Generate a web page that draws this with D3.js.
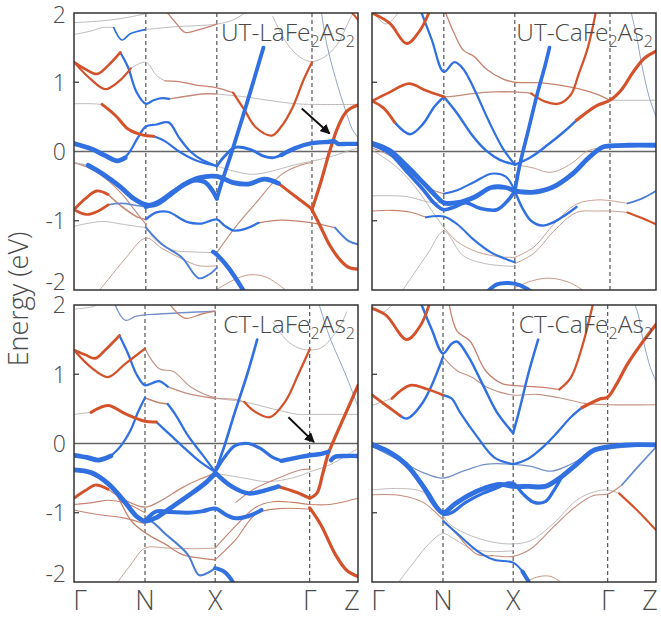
<!DOCTYPE html>
<html>
<head>
<meta charset="utf-8">
<script src="https://cdn.jsdelivr.net/npm/d3@7"></script>
<style>
body { margin: 0; background: #fff; }
svg text { font-family: "Open Sans", "Noto Sans", sans-serif; font-weight: 300; fill: #4a4a4a; }
</style>
</head>
<body>
<div id="graph_draw"></div>
<script>
// k path labels and tick positions (fraction of the path length)
var kLabels = ["Γ", "N", "X", "Γ", "Z"];
var kTicksUT = [0, 0.253, 0.503, 0.838, 1];
var kTicksCT = [0, 0.25, 0.497, 0.83, 1];
var eTicks = [-2, -1, 0, 1, 2];
var eLabels = ["-2", "-1", "0", "1", "2"];

// panel names: [text, sub, text, sub]
var titleUTLa = ["UT-LaFe", "2", "As", "2"];
var titleUTCa = ["UT-CaFe", "2", "As", "2"];
var titleCTLa = ["CT-LaFe", "2", "As", "2"];
var titleCTCa = ["CT-CaFe", "2", "As", "2"];

// arrows [from, to] in (k, E)
var arrowUTLa = [[0.802, 0.62], [0.9, 0.26]];
var arrowCTLa = [[0.755, 0.38], [0.845, 0.02]];

// bands: [orbital character (-1 La/Ca d, 0 none, 1 Fe), weight, [[k, E], ...]]
var bandsUTLa = [
 [0,0,[[0,1.86],[0.13,1.90],[0.25,1.99],[0.29,2.05]]],
 [0,0,[[0,1.69],[0.06,1.74],[0.10,1.79],[0.14,1.79]]],
 [1,0.2,[[0.14,1.79],[0.169,1.61],[0.198,1.70],[0.251,1.76]]],
 [0,0,[[0.251,1.76],[0.35,1.80],[0.503,1.84],[0.56,1.90],[0.62,2.05]]],
 [-0.5,0.1,[[0.32,2.05],[0.36,1.85],[0.392,1.72],[0.44,1.76],[0.503,1.84]]],
 [0,0,[[0.70,1.95],[0.75,1.56],[0.80,1.35],[0.838,1.30],[0.88,1.36],[0.926,1.54],[0.97,1.9],[0.99,2.05]]],
 [0.4,0,[[0.87,2.05],[0.89,1.55],[0.92,1.07],[0.954,0.62],[0.98,0.32],[1,0.2]]],
 [-1,0.3,[[0.97,2.05],[1,1.9]]],
 [-1,0.45,[[0,1.29],[0.04,1.19],[0.081,1.12],[0.12,1.24],[0.163,1.43]]],
 [1,0.35,[[0.163,1.43],[0.19,1.22],[0.22,0.86],[0.253,0.69],[0.28,0.74],[0.31,0.77],[0.335,0.76]]],
 [-0.4,0.15,[[0.335,0.76],[0.40,0.80],[0.45,0.83],[0.503,0.83]]],
 [0,0,[[0.503,0.83],[0.6,0.79],[0.7,0.73],[0.78,0.69],[0.838,0.68],[1,0.68]]],
 [-1,0.35,[[0,1.29],[0.06,1.04],[0.11,0.90],[0.16,1.02],[0.20,1.20]]],
 [0,0,[[0.20,1.20],[0.253,1.29],[0.29,1.1],[0.32,1.02]]],
 [-0.5,0.1,[[0.32,1.02],[0.37,1.01],[0.43,0.96],[0.503,0.92],[0.56,0.85]]],
 [-1,0.35,[[0.56,0.85],[0.60,0.6],[0.64,0.35],[0.696,0.23],[0.73,0.36],[0.77,0.64],[0.81,1.05],[0.838,1.29]]],
 [0,0,[[0,0.69],[0.06,0.69],[0.099,0.68]]],
 [-1,0.55,[[0.099,0.68],[0.146,0.52],[0.192,0.32],[0.24,0.24],[0.28,0.22]]],
 [1,0.3,[[0.28,0.22],[0.32,0.15],[0.37,0.0],[0.43,-0.13],[0.503,-0.21]]],
 [1,1,[[0,0.116],[0.064,0.034],[0.11,-0.06],[0.152,-0.135],[0.18,-0.09]]],
 [1,0.35,[[0.18,-0.09],[0.20,0.02],[0.225,0.2],[0.253,0.36],[0.29,0.39],[0.333,0.42],[0.37,0.2],[0.41,0.0],[0.45,-0.12],[0.503,-0.21]]],
 [1,0.5,[[0.503,-0.21],[0.53,-0.07],[0.567,0.06],[0.62,0.03],[0.67,-0.07],[0.70,-0.09],[0.73,-0.05]]],
 [1,0.9,[[0.73,-0.05],[0.78,0.05],[0.838,0.12],[0.90,0.14],[0.915,0.15],[0.93,0.11],[0.96,0.11],[1,0.11]]],
 [0,0,[[0.503,-0.21],[0.56,-0.28],[0.63,-0.33],[0.70,-0.28],[0.77,-0.2],[0.838,-0.14],[0.9,-0.08],[0.96,0.0],[1,0.05]]],
 [-0.4,0.05,[[0.503,-1.46],[0.567,-1.1],[0.637,-0.76],[0.731,-0.33],[0.802,-0.19],[0.838,-0.16]]],
 [0,0.1,[[0,-0.16],[0.05,-0.20]]],
 [1,1,[[0.05,-0.20],[0.10,-0.32],[0.16,-0.50],[0.21,-0.68],[0.253,-0.77],[0.29,-0.76],[0.34,-0.62],[0.39,-0.47],[0.44,-0.38],[0.503,-0.36],[0.56,-0.45],[0.614,-0.47],[0.67,-0.40],[0.72,-0.46]]],
 [-1,0.55,[[0.72,-0.46],[0.78,-0.65],[0.838,-0.83]]],
 [1,0.9,[[0.253,-0.80],[0.30,-0.72],[0.36,-0.55],[0.42,-0.42],[0.46,-0.44],[0.49,-0.58],[0.503,-0.68]]],
 [1,0.75,[[0.503,-0.68],[0.52,-0.45],[0.56,0.05],[0.62,0.85],[0.667,1.5]]],
 [-0.4,0.05,[[0,-0.16],[0.06,-0.25],[0.12,-0.42],[0.17,-0.62],[0.22,-0.88],[0.253,-1.05]]],
 [0,0,[[0.253,-1.05],[0.28,-1.25],[0.345,-1.42],[0.42,-1.45],[0.503,-1.46]]],
 [-1,0.5,[[0,-0.84],[0.04,-0.68],[0.08,-0.57],[0.12,-0.62]]],
 [-0.5,0.15,[[0.12,-0.62],[0.17,-0.80],[0.22,-0.94],[0.253,-0.98]]],
 [-1,0.45,[[0,-0.84],[0.045,-0.91],[0.08,-0.87],[0.12,-0.77]]],
 [0.6,0.2,[[0.12,-0.77],[0.17,-0.75],[0.22,-0.78],[0.253,-0.80]]],
 [1,0.35,[[0.253,-0.98],[0.29,-0.88],[0.33,-0.87],[0.40,-1.02],[0.45,-1.04],[0.503,-0.98],[0.53,-1.07],[0.56,-1.14],[0.60,-1.12],[0.65,-1.03]]],
 [-0.5,0.1,[[0.65,-1.03],[0.73,-0.99],[0.838,-1.03],[0.919,-1.10]]],
 [0.8,0.3,[[0.919,-1.10],[0.966,-1.29],[1,-1.34]]],
 [0,0,[[0,-1.08],[0.1,-1.01],[0.17,-1.05],[0.253,-1.10]]],
 [0.8,0.25,[[0.253,-1.10],[0.31,-1.34],[0.38,-1.53],[0.439,-1.83],[0.474,-1.78],[0.503,-1.68]]],
 [-0.3,0,[[0.08,-2.05],[0.12,-1.85],[0.18,-1.55],[0.253,-1.25],[0.31,-1.4],[0.38,-1.55],[0.44,-1.65],[0.503,-1.65]]],
 [1,0.9,[[0.49,-1.45],[0.503,-1.49],[0.544,-1.68],[0.603,-2.05]]],
 [-0.4,0,[[0.48,-2.05],[0.56,-1.86],[0.62,-1.78],[0.68,-1.82],[0.76,-2.05]]],
 [-1,0.6,[[0.838,-0.84],[0.87,-1.1],[0.9,-1.35],[0.94,-1.58],[0.97,-1.68],[1,-1.70]]],
 [-1,0.6,[[0.838,-0.84],[0.87,-0.43],[0.90,0.0],[0.93,0.36],[0.96,0.58],[1,0.67]]]
];

var bandsUTCa = [
 [-1,0.5,[[0,2.0],[0.063,1.85],[0.122,1.56],[0.169,1.75],[0.205,2.05]]],
 [0,0,[[0,2.03],[0.05,1.84],[0.1,2.05]]],
 [1,0.35,[[0.17,2.05],[0.21,1.62],[0.253,1.15],[0.29,1.29],[0.32,1.2],[0.36,0.9],[0.41,0.45],[0.46,0.05],[0.503,-0.19]]],
 [-1,0.45,[[0,0.73],[0.06,0.85],[0.13,0.98],[0.19,0.88],[0.253,0.79]]],
 [-0.4,0.1,[[0.253,0.79],[0.29,0.80],[0.36,0.84],[0.43,0.86],[0.503,0.86],[0.56,0.84]]],
 [-1,0.35,[[0.56,0.84],[0.61,0.72],[0.657,0.69],[0.70,0.82],[0.728,1.12],[0.76,1.5],[0.79,2.05]]],
 [-1,0.5,[[0,0.73],[0.04,0.63],[0.08,0.42]]],
 [1,0.4,[[0.08,0.42],[0.134,0.25],[0.18,0.40],[0.22,0.65],[0.253,0.79]]],
 [1,0.4,[[0.253,0.79],[0.30,0.55],[0.35,0.25],[0.40,0.02],[0.45,-0.12],[0.503,-0.19]]],
 [-0.5,0.1,[[0.255,2.05],[0.29,1.7],[0.322,1.46],[0.36,1.37],[0.40,1.2],[0.46,1.05],[0.503,1.0],[0.6,0.99],[0.7,0.93],[0.79,0.83],[0.838,0.74]]],
 [0,0,[[0.838,0.74],[1,0.74]]],
 [1,0.7,[[0.503,-0.57],[0.52,-0.2],[0.55,0.3],[0.58,0.8],[0.61,1.25],[0.625,1.5]]],
 [1,0.4,[[0.503,-0.19],[0.56,-0.08],[0.62,0.1],[0.68,0.3],[0.72,0.45]]],
 [-1,0.6,[[0.72,0.45],[0.79,0.66],[0.838,0.74],[0.88,0.9],[0.92,1.15],[0.96,1.35],[1,1.45]]],
 [0.4,0,[[0.91,2.05],[0.93,1.7],[0.95,1.25],[0.975,0.8],[1,0.5]]],
 [1,1,[[0,0.12],[0.06,0.02],[0.12,-0.2],[0.18,-0.45],[0.22,-0.62],[0.253,-0.74],[0.30,-0.74],[0.36,-0.66],[0.42,-0.52],[0.47,-0.52],[0.503,-0.57]]],
 [1,0.7,[[0,0.10],[0.06,-0.02],[0.12,-0.28],[0.18,-0.55],[0.22,-0.75],[0.253,-0.84],[0.29,-0.8],[0.33,-0.74],[0.38,-0.82],[0.44,-0.84],[0.48,-0.7],[0.503,-0.57]]],
 [-0.4,0.05,[[0,0.05],[0.08,-0.1],[0.16,-0.4],[0.21,-0.55],[0.253,-0.61]]],
 [1,0.3,[[0.253,-0.61],[0.30,-0.56],[0.36,-0.44],[0.42,-0.32],[0.47,-0.36],[0.503,-0.57]]],
 [1,1,[[0.503,-0.57],[0.563,-0.59],[0.634,-0.52],[0.704,-0.33],[0.763,-0.09],[0.81,0.06],[0.838,0.08],[0.9,0.09],[1,0.09]]],
 [-0.3,0,[[0.503,-0.19],[0.56,-0.23],[0.63,-0.30],[0.70,-0.18],[0.76,0.01],[0.838,0.06],[1,0.07]]],
 [1,0.4,[[0.503,-0.57],[0.53,-0.82],[0.56,-1.0],[0.60,-1.07],[0.64,-1.02],[0.68,-0.92],[0.72,-0.8]]],
 [-0.3,0,[[0.503,-1.53],[0.57,-1.38],[0.64,-1.05],[0.72,-0.76],[0.79,-0.70],[0.838,-0.71],[0.9,-0.75]]],
 [0.8,0.25,[[0.9,-0.75],[0.95,-0.68],[1,-0.57]]],
 [-0.3,0,[[0.503,-1.62],[0.57,-1.47],[0.64,-1.15],[0.72,-0.88],[0.79,-0.86],[0.838,-0.86],[0.9,-0.88]]],
 [-1,0.3,[[0.9,-0.88],[0.95,-0.96],[1,-1.05]]],
 [1,0.8,[[0.40,-2.05],[0.44,-1.92],[0.48,-1.9],[0.52,-1.93],[0.57,-2.05]]],
 [-0.4,0,[[0.50,-1.97],[0.57,-1.86],[0.63,-1.83],[0.70,-1.9],[0.76,-2.05]]],
 [0,0,[[0,-0.64],[0.12,-0.65],[0.2,-0.73],[0.253,-0.74]]],
 [-0.5,0.05,[[0,-0.86],[0.07,-0.85],[0.14,-0.88],[0.19,-0.95]]],
 [1,0.3,[[0.19,-0.95],[0.253,-0.94],[0.30,-1.05],[0.36,-1.28],[0.42,-1.46],[0.47,-1.55],[0.503,-1.6]]],
 [0,0,[[0,0.02],[0.08,-0.2],[0.15,-0.5],[0.21,-0.85],[0.253,-1.1]]],
 [-0.3,0,[[0.253,-1.1],[0.30,-1.3],[0.37,-1.45],[0.45,-1.52],[0.503,-1.53]]],
 [0,0,[[0.10,-2.05],[0.15,-1.75],[0.2,-1.45],[0.253,-1.15],[0.32,-1.5],[0.40,-1.62],[0.503,-1.66]]]
];

var bandsCTLa = [
 [0,0,[[0,1.94],[0.07,1.98],[0.1,2.05]]],
 [0.5,0.1,[[0.14,2.05],[0.18,1.78],[0.22,1.84],[0.30,1.87],[0.497,1.91]]],
 [-0.5,0.1,[[0.33,2.05],[0.39,1.81],[0.45,1.87],[0.497,1.91]]],
 [-1,0.45,[[0,1.35],[0.04,1.28],[0.075,1.23],[0.11,1.35],[0.16,1.56]]],
 [1,0.35,[[0.16,1.56],[0.19,1.3],[0.22,1.0],[0.25,0.84],[0.28,0.88],[0.30,0.9],[0.33,0.82]]],
 [-0.4,0.1,[[0.33,0.82],[0.40,0.72],[0.497,0.65]]],
 [-1,0.35,[[0,1.35],[0.06,1.1],[0.12,0.96],[0.18,1.15],[0.25,1.37]]],
 [-0.3,0.05,[[0.25,1.37],[0.3,1.08],[0.35,1.04],[0.41,0.82],[0.497,0.66],[0.567,0.64],[0.60,0.6]]],
 [-1,0.35,[[0.60,0.6],[0.637,0.46],[0.69,0.38],[0.743,0.6],[0.79,1.0],[0.83,1.36]]],
 [0,0,[[0.497,0.65],[0.6,0.6],[0.7,0.5],[0.79,0.42],[0.83,0.42],[1,0.42]]],
 [0,0,[[0.70,1.75],[0.749,1.49],[0.79,1.38],[0.83,1.35],[0.87,1.38],[0.90,1.49],[0.94,1.72],[0.96,1.9]]],
 [0.4,0,[[0.86,2.05],[0.875,1.85],[0.9,1.54],[0.96,0.96],[1,0.53]]],
 [1,0.45,[[0.497,-0.41],[0.53,-0.03],[0.567,0.46],[0.61,1.0],[0.645,1.5]]],
 [0,0,[[0,0.42],[0.06,0.45]]],
 [-1,0.55,[[0.06,0.45],[0.12,0.55],[0.18,0.43],[0.25,0.32],[0.29,0.31]]],
 [1,0.35,[[0.29,0.31],[0.34,0.12],[0.39,-0.07],[0.44,-0.25],[0.497,-0.41]]],
 [1,1,[[0,-0.17],[0.045,-0.2],[0.087,-0.24],[0.13,-0.18]]],
 [1,0.35,[[0.13,-0.18],[0.16,-0.06],[0.20,0.2],[0.225,0.45],[0.25,0.66]]],
 [-0.5,0.15,[[0.25,0.66],[0.29,0.6],[0.33,0.57]]],
 [1,0.35,[[0.33,0.57],[0.36,0.4],[0.40,0.12],[0.45,-0.15],[0.497,-0.41]]],
 [1,0.6,[[0.497,-0.41],[0.53,-0.2],[0.567,-0.03],[0.614,0.0],[0.66,-0.08],[0.70,-0.2],[0.73,-0.25]]],
 [1,0.9,[[0.73,-0.25],[0.79,-0.2],[0.83,-0.17],[0.87,-0.15],[0.895,-0.12]]],
 [1,0.9,[[0.905,-0.24],[0.92,-0.19],[0.96,-0.18],[1,-0.18]]],
 [-1,0.6,[[0.83,-0.79],[0.855,-0.72],[0.875,-0.45],[0.895,-0.15],[0.915,0.05],[0.955,0.42],[1,0.84]]],
 [1,0.9,[[0.497,-0.42],[0.555,-0.62],[0.614,-0.72],[0.67,-0.68],[0.72,-0.62]]],
 [-1,0.55,[[0.72,-0.62],[0.78,-0.70],[0.83,-0.79]]],
 [-1,0.6,[[0.83,-0.93],[0.87,-1.18],[0.92,-1.6],[0.96,-1.83],[1,-1.92]]],
 [0,0,[[0.497,-0.43],[0.6,-0.5],[0.673,-0.55],[0.731,-0.53],[0.80,-0.46],[0.83,-0.41],[0.9,-0.31],[1,-0.07]]],
 [-0.4,0.05,[[0.57,-0.85],[0.637,-0.65],[0.731,-0.48],[0.80,-0.38],[0.83,-0.37]]],
 [-0.5,0.05,[[0.497,-1.51],[0.567,-1.2],[0.64,-0.92],[0.70,-0.84],[0.77,-0.85],[0.83,-0.88],[0.9,-0.88],[1,-0.79]]],
 [-0.5,0.05,[[0.497,-1.68],[0.567,-1.4],[0.64,-1.02],[0.72,-0.94],[0.83,-0.95]]],
 [1,1,[[0,-0.38],[0.06,-0.42],[0.12,-0.58],[0.18,-0.85],[0.22,-1.05],[0.25,-1.12],[0.29,-1.07],[0.34,-0.93],[0.40,-0.76],[0.46,-0.58],[0.497,-0.43]]],
 [1,0.8,[[0.25,-1.12],[0.29,-0.98],[0.34,-0.99],[0.40,-1.0],[0.45,-0.98],[0.497,-0.94],[0.54,-1.04],[0.57,-1.08],[0.62,-1.04],[0.66,-0.96]]],
 [-0.5,0.1,[[0,-0.38],[0.068,-0.46],[0.134,-0.65],[0.204,-1.13],[0.263,-1.32],[0.32,-1.45],[0.38,-1.6],[0.45,-1.66],[0.497,-1.68]]],
 [0.8,0.3,[[0.25,-1.12],[0.27,-1.12],[0.32,-1.3],[0.40,-1.6],[0.44,-1.9],[0.47,-1.87],[0.497,-1.8]]],
 [1,0.8,[[0.497,-1.8],[0.532,-1.86],[0.567,-2.05]]],
 [-1,0.5,[[0,-0.79],[0.04,-0.68],[0.075,-0.6],[0.12,-0.66]]],
 [-0.4,0.1,[[0.12,-0.66],[0.18,-0.82],[0.25,-0.92],[0.30,-0.84],[0.38,-0.64],[0.44,-0.52],[0.497,-0.43]]],
 [-0.5,0.05,[[0,-0.88],[0.07,-0.85],[0.12,-0.82],[0.18,-0.86],[0.25,-1.0]]],
 [-0.5,0.05,[[0,-0.96],[0.09,-1.03],[0.17,-1.07],[0.25,-1.16]]],
 [-0.3,0,[[0.145,-2.05],[0.2,-1.75],[0.25,-1.51],[0.33,-1.51],[0.42,-1.52],[0.497,-1.51]]]
];

var bandsCTCa = [
 [-1,0.5,[[0,1.95],[0.05,1.85],[0.122,1.5],[0.17,1.7],[0.205,2.05]]],
 [0,0,[[0,2.0],[0.04,1.9],[0.08,2.05]]],
 [1,0.4,[[0.17,2.05],[0.21,1.65],[0.25,1.3],[0.28,1.44],[0.30,1.47],[0.34,1.25],[0.39,0.85],[0.44,0.45],[0.497,0.15]]],
 [1,0.4,[[0.497,0.15],[0.52,0.5],[0.55,1.0],[0.585,1.5]]],
 [-0.5,0.1,[[0.27,2.05],[0.30,1.62],[0.345,1.48],[0.40,1.05],[0.46,0.86],[0.497,0.84],[0.60,0.81],[0.66,0.78]]],
 [-1,0.35,[[0.66,0.78],[0.70,0.95],[0.74,1.4],[0.78,2.05]]],
 [-0.3,0.05,[[0.25,1.25],[0.30,1.05],[0.35,0.96],[0.41,0.80],[0.497,0.70],[0.58,0.71],[0.66,0.66],[0.75,0.58],[0.83,0.56],[1,0.56]]],
 [-1,0.5,[[0,0.70],[0.06,0.52],[0.10,0.4]]],
 [1,0.4,[[0.10,0.4],[0.122,0.36],[0.18,0.6],[0.25,1.25]]],
 [0,0,[[0,0.55],[0.07,0.65]]],
 [-1,0.45,[[0.07,0.65],[0.134,0.84],[0.19,0.79],[0.25,0.70]]],
 [1,0.35,[[0.25,0.70],[0.28,0.65],[0.31,0.45],[0.37,0.1],[0.43,-0.2],[0.497,-0.30]]],
 [1,0.35,[[0.497,-0.30],[0.55,-0.22],[0.60,-0.06],[0.65,0.15],[0.70,0.38],[0.74,0.52]]],
 [-1,0.6,[[0.74,0.52],[0.80,0.64],[0.83,0.67],[0.86,0.85],[0.9,1.15],[0.95,1.45],[1,1.72]]],
 [0.4,0,[[0.92,2.05],[0.935,1.9],[0.955,1.49],[0.98,1.1],[1,0.9]]],
 [1,1,[[0,-0.02],[0.06,-0.12],[0.12,-0.3],[0.18,-0.62],[0.22,-0.88],[0.25,-1.0],[0.29,-0.88],[0.34,-0.75],[0.40,-0.64],[0.45,-0.59],[0.497,-0.62],[0.55,-0.62],[0.61,-0.62],[0.66,-0.5],[0.72,-0.3],[0.78,-0.1],[0.83,-0.05],[0.9,-0.02],[1,-0.02]]],
 [1,0.6,[[0,0.0],[0.07,-0.15],[0.14,-0.4],[0.2,-0.72],[0.25,-1.02],[0.28,-1.0],[0.33,-0.85],[0.39,-0.72],[0.44,-0.64],[0.48,-0.57],[0.50,-0.58],[0.53,-0.72],[0.57,-0.85],[0.61,-0.84],[0.64,-0.68],[0.67,-0.47]]],
 [0.5,0.1,[[0,-0.04],[0.1,-0.25],[0.18,-0.42],[0.25,-0.5],[0.32,-0.4],[0.40,-0.3],[0.497,-0.30],[0.56,-0.33],[0.63,-0.4],[0.70,-0.3],[0.78,-0.12],[0.83,-0.08],[1,-0.02]]],
 [0,0,[[0,-0.67],[0.1,-0.65],[0.18,-0.7],[0.23,-0.9],[0.27,-1.15],[0.33,-1.3],[0.42,-1.42],[0.497,-1.45],[0.56,-1.4],[0.64,-1.15],[0.72,-0.82],[0.78,-0.7],[0.83,-0.67],[0.87,-0.72]]],
 [-1,0.3,[[0.87,-0.72],[0.93,-0.95],[1,-1.25]]],
 [-0.4,0.05,[[0,-0.74],[0.1,-0.75],[0.18,-0.85],[0.25,-1.1],[0.3,-1.32],[0.37,-1.6],[0.43,-1.62],[0.497,-1.63],[0.56,-1.52],[0.64,-1.2],[0.72,-0.9],[0.78,-0.75],[0.83,-0.73],[0.88,-0.6]]],
 [0.6,0.2,[[0.88,-0.6],[0.94,-0.32],[1,-0.05]]],
 [0,0,[[0.085,-2.05],[0.15,-1.7],[0.2,-1.45],[0.25,-1.3],[0.29,-1.38],[0.35,-1.52],[0.42,-1.56],[0.497,-1.55]]],
 [1,0.3,[[0.25,-1.12],[0.3,-1.3],[0.37,-1.55],[0.43,-1.68],[0.497,-1.72],[0.53,-1.85]]],
 [1,0.8,[[0.53,-1.85],[0.56,-2.05]]],
 [-0.4,0,[[0.52,-2.05],[0.58,-1.93],[0.63,-1.92],[0.68,-2.05]]]
];

var W = 661, H = 621;
var svg = d3.select("#graph_draw").append("svg")
    .attr("width", W).attr("height", H);

var defs = svg.append("defs");
defs.append("marker")
    .attr("id", "head").attr("viewBox", "0 0 10 10")
    .attr("refX", 9).attr("refY", 5)
    .attr("markerWidth", 5).attr("markerHeight", 5)
    .attr("orient", "auto")
  .append("path").attr("d", "M0,0L10,5L0,10z").attr("fill", "#111");

// fat band colour and width from orbital character / weight
var color = d3.scaleLinear().domain([-1, 0, 1]).range(["#d4522b", "#bab2b2", "#3070e0"]);
var thick = d3.scaleLinear().domain([0, 1]).range([0.9, 4.8]);

var panels = [
    {bands: bandsUTLa, title: titleUTLa, ticks: kTicksUT, x0: 74, y0: 13, arrow: arrowUTLa, left: true},
    {bands: bandsUTCa, title: titleUTCa, ticks: kTicksUT, x0: 372, y0: 13, left: false},
    {bands: bandsCTLa, title: titleCTLa, ticks: kTicksCT, x0: 74, y0: 305, arrow: arrowCTLa, left: true, bottom: true},
    {bands: bandsCTCa, title: titleCTCa, ticks: kTicksCT, x0: 372, y0: 305, left: false, bottom: true}
];
var pw = 284, ph = 277;

panels.forEach(function(p, i) {
    var x = d3.scaleLinear().domain([0, 1]).range([p.x0, p.x0 + pw]);
    var y = d3.scaleLinear().domain([-2, 2]).range([p.y0 + ph, p.y0]);

    defs.append("clipPath").attr("id", "clip" + i)
      .append("rect").attr("x", p.x0).attr("y", p.y0).attr("width", pw).attr("height", ph);

    var g = svg.append("g");

    // dashed high-symmetry lines
    g.selectAll(".kline").data(p.ticks.slice(1, 4)).enter().append("line")
        .attr("x1", d => x(d)).attr("x2", d => x(d))
        .attr("y1", p.y0).attr("y2", p.y0 + ph)
        .attr("stroke", "#333").attr("stroke-width", 1).attr("stroke-dasharray", "4,3");

    // Fermi level
    g.append("line")
        .attr("x1", p.x0).attr("x2", p.x0 + pw).attr("y1", y(0)).attr("y2", y(0))
        .attr("stroke", "#666").attr("stroke-width", 1.3);

    var line = d3.line()
        .x(d => x(d[0])).y(d => y(d[1]))
        .curve(d3.curveCatmullRom.alpha(0.5));

    var sorted = p.bands.slice().sort((a, b) => a[1] - b[1]);
    g.append("g").attr("clip-path", "url(#clip" + i + ")")
      .selectAll("path").data(sorted).enter().append("path")
        .attr("d", d => line(d[2]))
        .attr("fill", "none")
        .attr("stroke", d => color(d[0]))
        .attr("stroke-width", d => thick(d[1]))
        .attr("stroke-linecap", "round")
        .attr("stroke-linejoin", "round");

    // frame
    g.append("rect")
        .attr("x", p.x0).attr("y", p.y0).attr("width", pw).attr("height", ph)
        .attr("fill", "none").attr("stroke", "#333").attr("stroke-width", 1.5);

    // small ticks at +-1
    g.selectAll(".etick").data([-1, 1]).enter().append("line")
        .attr("x1", p.x0).attr("x2", p.x0 + 5)
        .attr("y1", d => y(d)).attr("y2", d => y(d))
        .attr("stroke", "#333").attr("stroke-width", 1.2);

    if (p.left) {
        // nudge the -2 / 2 pair apart where the panels meet
        g.selectAll(".elab").data(eTicks).enter().append("text")
            .attr("x", p.x0 - 8)
            .attr("y", d => y(d) + (d == -2 ? -8 : (d == 2 ? (p.bottom ? 0 : 2) : 0)))
            .attr("text-anchor", "end").attr("dy", "0.36em")
            .attr("font-size", 23)
            .text((d, j) => eLabels[j]);
    }

    if (p.bottom) {
        g.selectAll(".klab").data(p.ticks).enter().append("text")
            .attr("x", (d, j) => x(d) + (j == 0 ? 6 : j == 4 ? -6 : 0))
            .attr("y", p.y0 + ph + 28)
            .attr("text-anchor", "middle")
            .attr("font-size", 27)
            .text((d, j) => kLabels[j]);
    }

    // title with subscripts
    var t = g.append("text")
        .attr("x", p.x0 + pw - 3).attr("y", p.y0 + 28)
        .attr("text-anchor", "end").attr("font-size", 24.5);
    p.title.forEach(function(s, j) {
        var ts = t.append("tspan").text(s);
        if (j % 2 == 1) ts.attr("font-size", 16).attr("dy", 6);
        else if (j > 0) ts.attr("dy", -6);
    });

    if (p.arrow) {
        g.append("line")
            .attr("x1", x(p.arrow[0][0])).attr("y1", y(p.arrow[0][1]))
            .attr("x2", x(p.arrow[1][0])).attr("y2", y(p.arrow[1][1]))
            .attr("stroke", "#111").attr("stroke-width", 2)
            .attr("marker-end", "url(#head)");
    }
});

// y axis title
svg.append("text")
    .attr("transform", "translate(28," + 299 + ") rotate(-90)")
    .attr("text-anchor", "middle").attr("font-size", 27)
    .text("Energy (eV)");
</script>
</body>
</html>
